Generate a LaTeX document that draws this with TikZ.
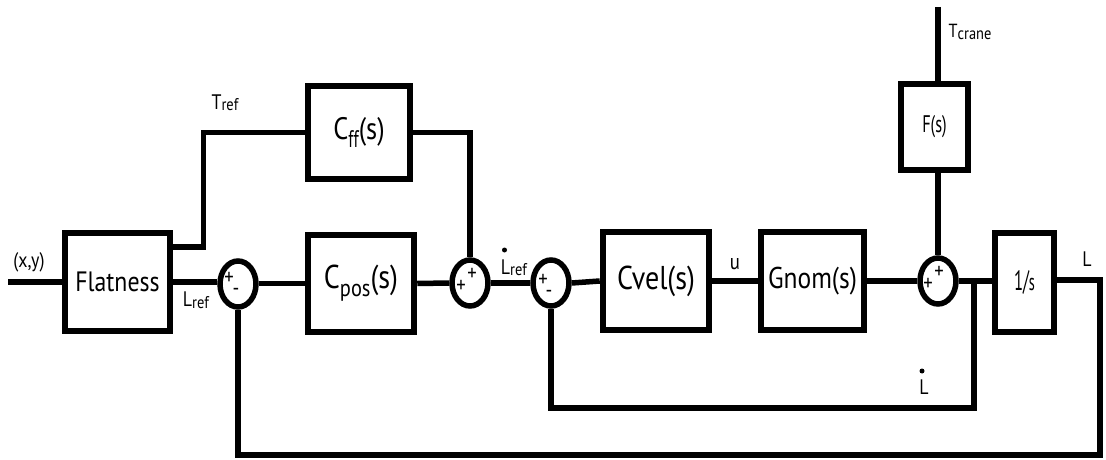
\documentclass[tikz,border=0pt]{standalone}
\usepackage{fontspec}
\setmainfont{PT Sans}[FakeStretch=0.85]
\usetikzlibrary{shapes.geometric}

\newcommand\fsz[1]{\fontsize{#1}{#1}\selectfont}
\newcommand\lowsub[1]{\raisebox{-8pt}{\fsz{24}#1}}
\newcommand\smallsub[1]{\raisebox{-1.5pt}{\fsz{17}#1}}

\begin{document}
\begin{tikzpicture}[x=1pt,y=-1pt,line width=5.5pt,line join=miter,
  blk/.style={draw,rectangle,inner sep=0pt,line width=6.5pt,font=\fsz{33}},
  sumnode/.style={draw,ellipse,minimum width=36pt,minimum height=46pt,inner sep=0pt},
  lbl/.style={inner sep=0pt,font=\fsz{21}},
  sgn/.style={inner sep=0pt,font=\fsz{22}}]
\useasboundingbox (0,0) rectangle (1106,460);

% blocks
\node[blk,minimum width=105pt,minimum height=98pt,font=\fsz{28}] (flat) at (117.5,282) {Flatness};
\node[blk,minimum width=102pt,minimum height=93pt,font=\fsz{31}] (cff) at (359,132.5) {C\scalebox{0.8}[1]{\lowsub{ff}}(s)};
\node[blk,minimum width=106pt,minimum height=97pt] (cpos) at (361,283.5) {C\lowsub{pos}(s)};
\node[blk,minimum width=106pt,minimum height=98pt] (cvel) at (656,281) {Cvel(s)};
\node[blk,minimum width=103pt,minimum height=98pt,font=\fsz{30}] (gnom) at (812.5,281) {Gnom(s)};
\node[blk,minimum width=67pt,minimum height=86pt,font=\fsz{24}] (fs) at (934.5,127) {\scalebox{0.8}[1]{F(s)}};
\node[blk,minimum width=59pt,minimum height=99pt,font=\fsz{28}] (integ) at (1024.5,282.5) {\scalebox{0.7}[1]{1/\fsz{24}s}};

% summing junctions
\node[sumnode] (s1) at (238,284) {};
\node[sumnode] (s2) at (470,283) {};
\node[sumnode] (s3) at (551,283) {};
\node[sumnode] (s4) at (938,281) {};

% signs
\node[sgn] (s1p) at (229,278) {+};
\node[sgn] (s1m) at (236,292) {-};
\node[sgn] (s2a) at (461,286) {+};
\node[sgn] (s2b) at (472,274) {+};
\node[sgn] (s3p) at (543,280) {+};
\node[sgn] (s3m) at (549,294) {-};
\node[sgn] (s4a) at (928,284) {+};
\node[sgn] (s4b) at (939,272) {+};

% free ends and corners
\coordinate (xin) at (8,282);
\coordinate (tc) at (938,7);
\coordinate (branch) at (974,282);
\coordinate (lcorner) at (1100,280);
\coordinate (bcorner) at (1100,455);

% signal labels
\node[lbl] (xy) at (29,262) {(x,y)};
\node[lbl] (lref) at (196,300) {L\smallsub{ref}};
\node[lbl] (tref) at (225,103) {T\smallsub{ref}};
\node[lbl] (ldref) at (514,268) {L\smallsub{ref}};
\fill (504.5,250) circle (2.5pt);
\node[lbl,font=\fsz{22}] (uu) at (735,264) {u};
\node[lbl,font=\fsz{19}] (tcr) at (970,32) {T\smallsub{crane}};
\node[lbl] (ll) at (1087,259) {L};
\node[lbl] (ldot) at (924,387) {L};
\fill (922,371) circle (2.5pt);

% forward path
\draw (xin) -- (flat.west);
\draw (flat.east) -- (s1.west |- flat.east);
\draw (s1.east |- cpos.west) -- (cpos.west);
\draw (cpos.east) -- (s2.west);
\draw (s2.east) -- (s3.west);
\draw (s3.east) -- (cvel.west);
\draw (cvel.east) -- (gnom.west);
\draw (gnom.east) -- (s4.west);
\draw (s4.east) -- (integ.west |- s4.east);

% feed-forward branch
\draw ([yshift=35pt]flat.east) -- ++(30,0) |- (cff.west);
\draw (cff.east) -| (s2.north);

% disturbance input
\draw (tc) -- (tc |- fs.north);
\draw (s4.north |- fs.south) -- (s4.north);

% velocity loop
\draw (branch) -- ++(0,126) -| (s3.south);

% position loop
\draw (integ.east |- lcorner) -- (lcorner) -- (bcorner) -| (s1.south);
\end{tikzpicture}
\end{document}
